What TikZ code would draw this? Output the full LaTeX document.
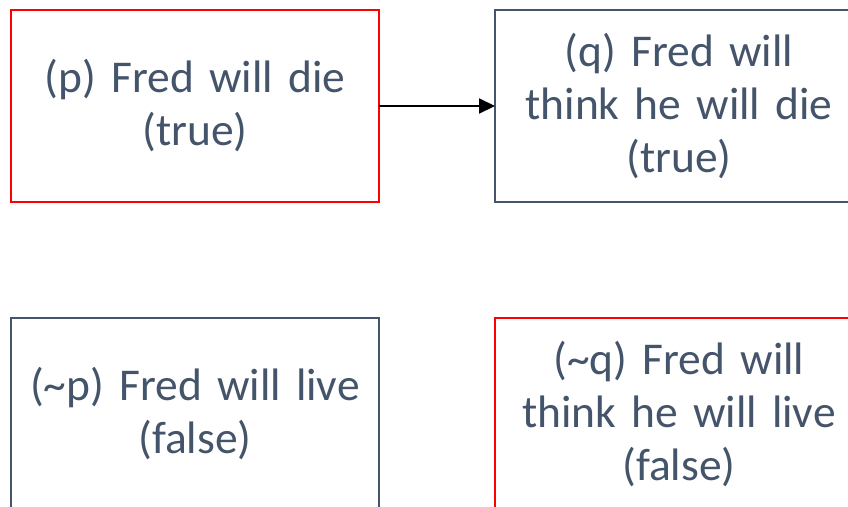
\documentclass[tikz,border=0pt]{standalone}
\usepackage{fontspec}
\setmainfont{Carlito}
\usetikzlibrary{arrows.meta,positioning}
\definecolor{slate}{HTML}{44546A}
\definecolor{pred}{HTML}{FF0000}

\begin{document}
\begin{tikzpicture}[
	x=1pt, y=-1pt,
	node distance = 116pt,
	BoxStyle/.style={draw, line width=2pt, minimum width=368pt, minimum height=192pt,
		outer sep=0pt, inner sep=0pt, align=center, text width=360pt, text=slate,
		font=\fontsize{45.5}{53}\selectfont},
	]
	\path[use as bounding box, clip] (0,0) rectangle (848,506);
	\node [BoxStyle, draw=pred, anchor=north west] (p) at (11,10) {(p) Fred will die\\(true)};
	\node [BoxStyle, draw=slate, right=of p] (q) {(q) Fred will\\think he will die\\(true)};
	\node [BoxStyle, draw=slate, below=of p] (np) {(\string~p) Fred will live\\(false)};
	\node [BoxStyle, draw=pred, below=of q] (nq) {(\string~q) Fred will\\think he will live\\(false)};

	\draw[line width=2pt, -{Triangle[length=16pt, width=15pt]}] (p) -- (q);
\end{tikzpicture}
\end{document}
